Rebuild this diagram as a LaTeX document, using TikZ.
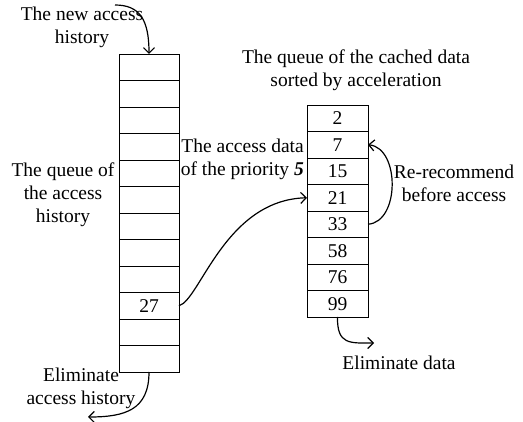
\documentclass[tikz,border=0pt]{standalone}
\usepackage{fontspec}
\setmainfont{Liberation Serif}
\usetikzlibrary{arrows.meta, positioning}

\begin{document}
\begin{tikzpicture}[
  x=1pt, y=-1pt,
  cell/.style={draw, line width=0.9pt, minimum width=60pt, minimum height=26.5pt,
               inner sep=0pt, outer sep=0pt, font=\fontsize{19.5}{23}\selectfont},
  lbl/.style={align=center, inner sep=0pt, font=\fontsize{19.5}{23}\selectfont},
  arr/.style={-{Straight Barb[length=5.5pt, width=11pt]}, line width=1.2pt}
]
  \useasboundingbox (0,0) rectangle (523,422);

  % queue of the access history
  \node[cell] (h1) at (149,67.25) {};
  \foreach \i [remember=\i as \prev (initially 1)] in {2,...,12}
    \node[cell, below=0pt of h\prev] (h\i) {};
  \node[lbl] (hval) at (h10) {27};

  % queue of the cached data
  \node[cell, minimum width=61pt] (c1) at (337.5,118.25) {2};
  \foreach \v [count=\i from 2, remember=\i as \prev (initially 1)] in {7,15,21,33,58,76,99}
    \node[cell, minimum width=61pt, below=0pt of c\prev] (c\i) {\v};

  % labels
  \node[lbl] (newtxt)  at (82,27)   {The new access\\history};
  \node[lbl] (histtxt) at (63,195)  {The queue of\\the access\\history};
  \node[lbl] (elimh)   at (81,388)  {Eliminate\\access history};
  \node[lbl, align=right, anchor=east] (prio) at (304,159)
    {The access data\\of the priority \textbf{\textit{5}}};
  \node[lbl] (cachetxt) at (356,70) {The queue of the cached data\\sorted by acceleration};
  \node[lbl] (retxt)   at (454,183) {Re-recommend\\before access};
  \node[lbl] (elimd)   at (399,363) {Eliminate data};

  \coordinate (newin) at (115,5);
  \coordinate (hout)  at (88,417);
  \coordinate (dout)  at (374,343);

  \draw[arr] (newin) .. controls (140,5) and (149,20) .. (h1.north);
  \draw[arr] (h12.south) .. controls (149,410) and (125,417) .. (hout);
  \draw[arr] (h10.east) .. controls (200,300) and (225,200) .. (c4.west);
  \draw[arr] (c5.east) .. controls (400,222) and (400,148) .. (c2.east);
  \draw[arr] (c8.south) .. controls (337,345) and (350,343) .. (dout);
\end{tikzpicture}
\end{document}
